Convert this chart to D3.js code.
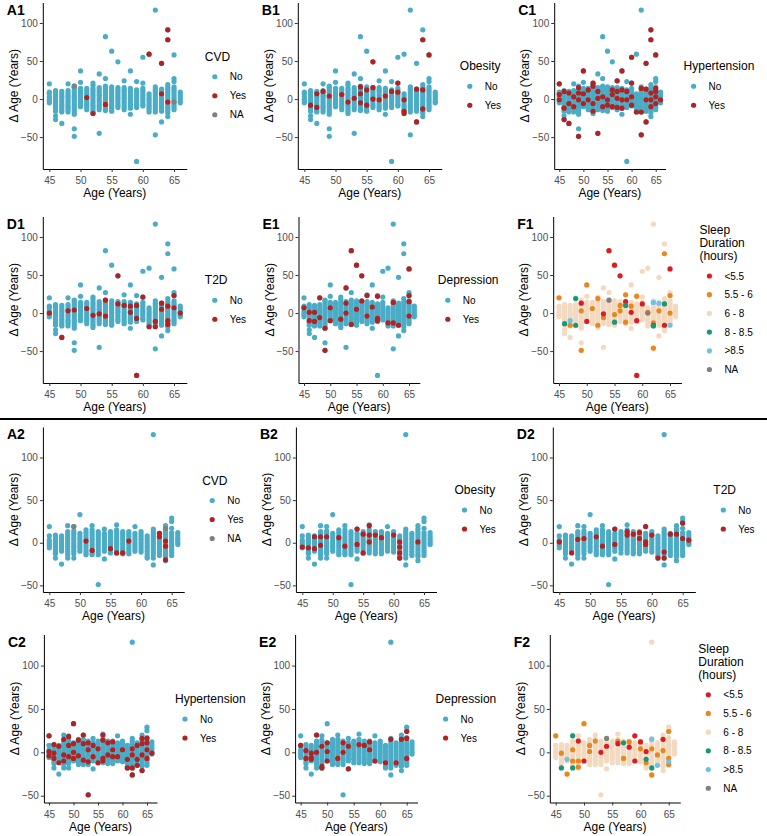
<!DOCTYPE html>
<html>
<head>
<meta charset="utf-8">
<title>Delta age by comorbidity</title>
<script src="https://d3js.org/d3.v7.min.js"></script>
<style>
  body { margin: 0; background: #fff; }
  svg { font-family: "Liberation Sans", Arial, sans-serif; }
</style>
</head>
<body>
<script>
// ---- data ----
const ages = [45, 46, 47, 48, 49, 50, 51, 52, 53, 54, 55, 56, 57, 58, 59, 60, 61, 62, 63, 64, 65, 66];
const xTicks = [45, 50, 55, 60, 65];
const yTicks = [-50, 0, 50, 100];

// delta age of every subject, one list per age (upper block, panels *1)
const topDelta = [
  [20, 9, 7, 3, 0, -2, -5],
  [11, 8, 6, 3, 0, -3, -5, -8, -11, -13, -16, -22, -27],
  [10, 7, 4, 2, -1, -4, -7, -9, -12, -15, -17, -32],
  [20, 11, 8, 5, 3, 0, -3, -6, -9, -11, -14, -17],
  [17, 15, 12, 9, 6, 3, 1, -2, -5, -8, -11, -14, -17, -20, -39, -49],
  [37, 22, 14, 11, 8, 5, 2, -1, -4, -7, -10],
  [14, 11, 8, 6, 3, 0, -3, -6, -8, -11, -14],
  [21, 18, 14, 11, 8, 5, 2, -1, -4, -7, -10, -13, -16, -19],
  [33, 15, 12, 9, 6, 4, 1, -2, -5, -8, -11, -14, -45],
  [82, 27, 17, 14, 11, 8, 5, 2, -1, -4, -7, -10, -13, -15],
  [63, 16, 13, 10, 7, 4, 1, -2, -5, -8, -11, -14, -16],
  [49, 15, 12, 9, 6, 3, 1, -2, -5, -8, -11],
  [24, 15, 12, 10, 7, 4, 1, -2, -5, -8, -11, -14],
  [37, 14, 11, 8, 5, 2, -1, -4, -7, -9, -12, -20],
  [23, 12, 9, 6, 3, 1, -2, -5, -8, -11, -82],
  [55, 21, 14, 11, 8, 5, 2, -1, -4, -7, -9],
  [59, 7, 4, 1, -2, -5, -8, -11, -14, -17],
  [117, 16, 13, 10, 7, 4, 1, -2, -5, -8, -11, -14, -17, -47],
  [47, 13, 10, 7, 4, 2, -1, -4, -7, -10, -13, -16, -30],
  [91, 78, 19, 15, 12, 9, 6, 3, 0, -3, -6, -9, -12, -15, -18, -23],
  [58, 27, 23, 16, 13, 10, 7, 4, 1, -2, -5, -8, -11, -14],
  [9, 6, 3, 0, -3, -5]
];

// lower block, panels *2
const botDelta = [
  [19, 8, 3, 0, -3, -6],
  [9, 6, 3, 1, -2, -5, -8, -11, -13, -18],
  [8, 5, 2, -1, -4, -7, -10, -25],
  [20, 13, 10, 7, 4, 1, -2, -5, -8, -11, -14, -18],
  [19, 14, 11, 8, 5, 2, -1, -4, -7, -10, -13, -18],
  [33, 11, 8, 5, 2, -1, -4, -7, -10],
  [15, 12, 9, 6, 3, 0, -3, -6, -9, -12, -14],
  [20, 15, 12, 9, 6, 3, 0, -3, -6, -9, -12, -14],
  [13, 10, 7, 4, 1, -2, -5, -8, -11, -14, -49],
  [16, 11, 8, 5, 2, -1, -4, -7, -10, -19],
  [13, 10, 7, 4, 1, -2, -5, -8, -12],
  [21, 15, 12, 9, 6, 3, 0, -3, -6, -9, -12],
  [13, 10, 7, 4, 1, -2, -5, -8, -11, -13],
  [13, 10, 7, 4, 1, -2, -5, -8, -11, -13],
  [19, 11, 8, 5, 2, -1, -4, -7, -10],
  [13, 10, 7, 4, 1, -2, -5, -8, -11],
  [8, 5, 2, -1, -4, -7, -10, -13, -16, -18],
  [127, 16, 13, 10, 7, 4, 1, -2, -5, -8, -11, -14, -18, -26],
  [11, 8, 5, 2, -1, -4, -7, -10, -13, -15],
  [20, 16, 13, 10, 7, 4, 1, -2, -5, -8, -11, -14, -16, -21],
  [29, 25, 17, 12, 9, 6, 3, 0, -3, -6, -9, -12, -15],
  [12, 9, 6, 3, 0, -2]
];

// subjects that fall in a non-reference level, [age, delta]
const cvdTopYes = [[51, 2], [52, -19], [54, -7], [61, 59], [63, 47], [63, 7], [64, 91], [64, 78], [64, -4]];
const cvdTopNA = [[49, 17], [65, -4]];
const obesityTopYes = [[46, -8], [47, 7], [47, -11], [48, 10], [49, 4], [51, 6], [52, -4], [53, 1], [54, 16], [54, 7], [54, -5], [55, 12], [55, -8], [56, 49], [56, 15], [56, 0], [57, -1], [58, 4], [59, 10], [60, 21], [60, 9], [61, -1], [61, -16], [61, -19], [63, 13], [63, -30], [64, 78], [64, 12], [64, -13], [65, 58]];
const htnTopYes = [[45, 20], [45, 6], [45, -1], [46, 10], [46, -12], [46, -27], [47, 8], [47, -6], [47, -32], [48, 3], [48, -10], [49, 15], [49, 8], [49, -1], [49, -49], [50, 37], [50, 7], [50, -6], [51, 12], [51, -1], [52, 21], [52, 17], [52, -6], [52, -16], [53, 10], [53, 1], [53, -45], [54, 3], [54, -10], [55, -1], [55, -8], [56, 12], [56, 6], [56, -10], [57, 24], [57, 10], [57, 1], [57, -11], [58, 37], [58, 12], [58, -1], [58, -12], [59, 10], [59, -1], [60, 55], [60, 21], [60, 3], [60, -8], [61, -17], [62, 14], [62, -17], [62, -47], [63, 47], [63, 13], [63, -1], [63, -30], [64, 91], [64, 78], [64, 8], [64, -1], [64, -10], [65, 58], [65, 14], [65, 10], [65, 3], [65, -6], [66, -1]];
const t2dTopYes = [[45, 0], [47, -32], [48, 3], [49, 4], [51, 6], [52, -3], [53, -1], [54, 17], [54, -4], [56, 49], [56, 12], [57, 10], [58, 9], [58, 1], [59, 10], [59, -7], [59, -82], [60, 21], [61, -18], [62, -11], [62, -18], [63, 13], [63, 5], [64, 9], [64, -10], [64, -15], [65, 23], [65, 7], [66, 0]];
const depTopYes = [[45, 7], [46, 1], [46, -10], [47, 1], [47, -11], [48, 20], [48, -6], [49, -20], [49, -49], [50, 7], [50, -10], [52, -8], [53, 33], [53, 13], [53, 0], [54, 82], [54, -15], [55, 63], [55, 5], [56, 49], [56, 16], [57, 23], [57, -4], [58, 8], [59, 22], [59, -7], [59, -10], [61, -13], [62, 14], [62, -13], [63, -16], [65, 58], [65, 23], [65, 15], [65, -4]];
const sleepTopLt55 = [[49, 13], [50, -11], [53, -1], [54, 82], [55, 63], [56, 49], [57, 15], [58, 1], [59, -10], [59, -82], [60, 12], [62, -16], [64, -16], [65, 58]];
const sleepTop55to6 = [[45, 20], [47, -16], [49, 3], [49, -49], [50, 37], [51, 6], [52, 19], [52, -16], [53, -6], [55, -2], [56, 10], [56, 3], [57, 24], [57, -12], [58, 9], [59, 22], [61, 1], [62, -13], [62, -46], [63, 3], [64, 78], [65, 23], [65, 0]];
const sleepTop8to85 = [[46, -14], [48, 19], [48, -16], [55, -12], [57, 10], [62, -17], [64, 12]];
const sleepTopGt85 = [[47, -10], [62, 14], [63, 13], [65, -16]];
const sleepTopNA = [[54, 17], [61, 0]];

const cvdBotYes = [[51, 2], [52, -9], [55, -7], [56, -12], [57, -12], [58, 2], [63, 11], [63, 7], [64, 2], [64, -4], [64, -20]];
const cvdBotNA = [[49, 19], [64, 17]];
const obesityBotYes = [[45, -5], [46, -6], [47, 7], [47, -7], [48, 7], [48, -3], [49, 7], [51, 6], [52, -4], [54, 16], [54, -2], [55, 10], [55, -12], [56, 20], [56, 9], [56, 1], [57, 9], [58, 6], [60, 9], [61, 1], [61, -5], [61, -12], [61, -18], [64, 1]];
const htnBotYes = [[45, 19], [45, 1], [45, -4], [46, 9], [46, -1], [46, -7], [47, 7], [47, -12], [48, 15], [48, -3], [48, -10], [49, 18], [49, 8], [49, -5], [50, 33], [50, 10], [50, 0], [50, -7], [51, 14], [51, -4], [52, 20], [52, 10], [52, -9], [53, 11], [53, 3], [53, -11], [53, -49], [54, 8], [54, -5], [55, 4], [55, -12], [56, 20], [56, 14], [56, -7], [56, -10], [57, 11], [57, -3], [58, 12], [58, 3], [58, -5], [59, -5], [60, 3], [61, -8], [61, -18], [62, 4], [62, -3], [62, -18], [62, -26], [63, 8], [63, -8], [63, -15], [64, 16], [64, 10], [64, -3], [64, -21], [65, 16], [65, 11], [65, 3], [65, -7], [66, -1]];
const t2dBotYes = [[45, 1], [47, -12], [48, 4], [49, 5], [51, 7], [52, -4], [54, 16], [54, -2], [56, 13], [56, 9], [57, 10], [58, 12], [58, 5], [59, 19], [59, 1], [59, -2], [60, 9], [61, -18], [62, -11], [62, -18], [63, 10], [64, 10], [65, 23], [65, 5], [66, 3]];
const depBotYes = [[45, 8], [46, 2], [46, -7], [47, -1], [47, -6], [47, -8], [48, 20], [48, 0], [49, 7], [49, -16], [49, -18], [50, 11], [50, 1], [50, -10], [52, -7], [53, 11], [53, 0], [54, 7], [54, -19], [56, 9], [57, 8], [58, 12], [58, 3], [59, -10], [61, -12], [62, 15], [63, -12], [64, 15], [65, 24], [65, 16], [65, -7]];
const sleepBotLt55 = [[49, 13], [50, -10], [53, 0], [54, 7], [56, 10], [58, 6], [59, 19], [59, -10], [60, 12], [61, 1], [64, 15]];
const sleepBot55to6 = [[45, 19], [46, -1], [47, -25], [48, 3], [48, -10], [49, -10], [49, -17], [50, 33], [51, 8], [51, 1], [52, 13], [56, 13], [57, -7], [58, 12], [60, 4], [61, -12], [62, 4], [62, -26], [63, -3], [64, 2], [65, 24], [65, -7], [65, -14]];
const sleepBot8to85 = [[46, -18], [48, 19], [48, -18], [57, 11], [61, -8], [62, -18]];
const sleepBotGt85 = [[47, -8], [62, 15], [63, -15], [65, -11]];
const sleepBotNA = [[54, 16]];

const ynLevels = ["No", "Yes"];
const cvdLevels = ["No", "Yes", "NA"];
const sleepLevels = ["<5.5", "5.5 - 6", "6 - 8", "8 - 8.5", ">8.5", "NA"];

// ---- styling / layout ----
const ynColor = d3.scaleOrdinal().domain(cvdLevels).range(["#4BACC6", "#B22222", "#808080"]);
const sleepColor = d3.scaleOrdinal().domain(sleepLevels)
  .range(["#DC1C24", "#E8871E", "#F3D9BF", "#14997A", "#6EC3E3", "#808080"]);

const W = 767, H = 836;
const svg = d3.select("body").append("svg").attr("width", W).attr("height", H);

function expand(ext, f) {
  const pad = (ext[1] - ext[0]) * f;
  return [ext[0] - pad, ext[1] + pad];
}
const xDomain = expand(d3.extent(ages), 0.05);
const topDomain = expand(d3.extent(topDelta.flat()), 0.05);
const botDomain = expand(d3.extent(botDelta.flat()), 0.05);

const rows = [
  {top: 2.5, bottom: 169, dom: topDomain},
  {top: 216.5, bottom: 383, dom: topDomain},
  {top: 427, bottom: 592, dom: botDomain},
  {top: 634.5, bottom: 802.5, dom: botDomain}
];

const panels = [
  {tag: "A1", row: 0, L: 42.8, R: 186.8, title: ["CVD"], cols: topDelta, levels: cvdLevels, base: "No", color: ynColor, groups: [["Yes", cvdTopYes], ["NA", cvdTopNA]]},
  {tag: "B1", row: 0, L: 297.8, R: 441.8, title: ["Obesity"], cols: topDelta, levels: ynLevels, base: "No", color: ynColor, groups: [["Yes", obesityTopYes]]},
  {tag: "C1", row: 0, L: 554.2, R: 665.6, title: ["Hypertension"], cols: topDelta, levels: ynLevels, base: "No", color: ynColor, groups: [["Yes", htnTopYes]]},
  {tag: "D1", row: 1, L: 42.8, R: 186.8, title: ["T2D"], cols: topDelta, levels: ynLevels, base: "No", color: ynColor, groups: [["Yes", t2dTopYes]]},
  {tag: "E1", row: 1, L: 298.5, R: 419.8, title: ["Depression"], cols: topDelta, levels: ynLevels, base: "No", color: ynColor, groups: [["Yes", depTopYes]]},
  {tag: "F1", row: 1, L: 553.2, R: 681.4, title: ["Sleep", "Duration", "(hours)"], cols: topDelta, levels: sleepLevels, base: "6 - 8", color: sleepColor,
    groups: [["5.5 - 6", sleepTop55to6], ["<5.5", sleepTopLt55], ["8 - 8.5", sleepTop8to85], [">8.5", sleepTopGt85], ["NA", sleepTopNA]]},
  {tag: "A2", row: 2, L: 42.9, R: 184.2, title: ["CVD"], cols: botDelta, levels: cvdLevels, base: "No", color: ynColor, groups: [["Yes", cvdBotYes], ["NA", cvdBotNA]]},
  {tag: "B2", row: 2, L: 295.9, R: 436.5, title: ["Obesity"], cols: botDelta, levels: ynLevels, base: "No", color: ynColor, groups: [["Yes", obesityBotYes]]},
  {tag: "D2", row: 2, L: 552.8, R: 695.3, title: ["T2D"], cols: botDelta, levels: ynLevels, base: "No", color: ynColor, groups: [["Yes", t2dBotYes]]},
  {tag: "C2", row: 3, L: 43.9, R: 157, title: ["Hypertension"], cols: botDelta, levels: ynLevels, base: "No", color: ynColor, groups: [["Yes", htnBotYes]]},
  {tag: "E2", row: 3, L: 295.1, R: 417.6, title: ["Depression"], cols: botDelta, levels: ynLevels, base: "No", color: ynColor, groups: [["Yes", depBotYes]]},
  {tag: "F2", row: 3, L: 549.8, R: 680.3, title: ["Sleep", "Duration", "(hours)"], cols: botDelta, levels: sleepLevels, base: "6 - 8", color: sleepColor,
    groups: [["5.5 - 6", sleepBot55to6], ["<5.5", sleepBotLt55], ["8 - 8.5", sleepBot8to85], [">8.5", sleepBotGt85], ["NA", sleepBotNA]]}
];

function drawPanel(p) {
  const row = rows[p.row];
  const x = d3.scaleLinear().domain(xDomain).range([p.L, p.R]);
  const y = d3.scaleLinear().domain(row.dom).range([row.bottom, row.top]);
  const g = svg.append("g");

  // points: reference level first, other levels drawn over it
  const pts = [];
  ages.forEach((a, i) => p.cols[i].forEach(d => pts.push({age: a, delta: d, level: p.base})));
  p.groups.forEach(([lvl, arr]) => arr.forEach(([a, d]) => pts.push({age: a, delta: d, level: lvl})));
  g.append("g").selectAll("circle").data(pts).join("circle")
    .attr("cx", d => x(d.age))
    .attr("cy", d => y(d.delta))
    .attr("r", 2.6)
    .attr("fill", d => p.color(d.level));

  // axes
  const xa = g.append("g").attr("transform", `translate(0,${row.bottom})`)
    .call(d3.axisBottom(x).tickValues(xTicks).tickSize(3).tickSizeOuter(0).tickPadding(5));
  const ya = g.append("g").attr("transform", `translate(${p.L},0)`)
    .call(d3.axisLeft(y).tickValues(yTicks).tickSize(3).tickSizeOuter(0).tickPadding(2));
  [xa, ya].forEach(a => {
    a.select(".domain").attr("stroke", "#000").attr("stroke-width", 1);
    a.selectAll(".tick line").attr("stroke", "#333");
    a.selectAll(".tick text").attr("fill", "#4d4d4d").style("font-size", "10px");
    a.attr("font-family", null);
  });

  g.append("text")
    .attr("x", (p.L + p.R) / 2).attr("y", row.bottom + 28)
    .attr("text-anchor", "middle").style("font-size", "12px")
    .text("Age (Years)");
  g.append("text")
    .attr("transform", `translate(${p.L - 29},${(row.top + row.bottom) / 2}) rotate(-90)`)
    .attr("dy", "0.35em").attr("text-anchor", "middle").style("font-size", "12px")
    .text("Δ Age (Years)");
  g.append("text")
    .attr("x", p.L - 36).attr("y", row.top + 12)
    .style("font-size", "14px").style("font-weight", "bold")
    .text(p.tag);

  // legend, vertically centred on the panel
  const mid = (row.top + row.bottom) / 2;
  const lx = p.R + 18;
  const lineH = 13, step = p.title.length > 1 ? 18.7 : 19;
  const blockH = (p.title.length - 1) * lineH + 20 + step * (p.levels.length - 1);
  const t0 = mid - blockH / 2;
  const lg = g.append("g");
  lg.selectAll("text.lt").data(p.title).join("text").attr("class", "lt")
    .attr("x", lx).attr("y", (d, i) => t0 + i * lineH)
    .attr("dy", "0.35em").style("font-size", "12px").text(d => d);
  const first = t0 + (p.title.length - 1) * lineH + 20;
  const it = lg.selectAll("g.it").data(p.levels).join("g").attr("class", "it")
    .attr("transform", (d, i) => `translate(${lx},${first + i * step})`);
  it.append("circle").attr("cx", 10).attr("r", 2.6).attr("fill", d => p.color(d));
  it.append("text").attr("x", 25).attr("dy", "0.35em").style("font-size", "10px").text(d => d);
}

panels.forEach(drawPanel);

// separator between the two blocks
svg.append("line").attr("x1", 0).attr("x2", W).attr("y1", 419).attr("y2", 419)
  .attr("stroke", "#000").attr("stroke-width", 2);
</script>
</body>
</html>
